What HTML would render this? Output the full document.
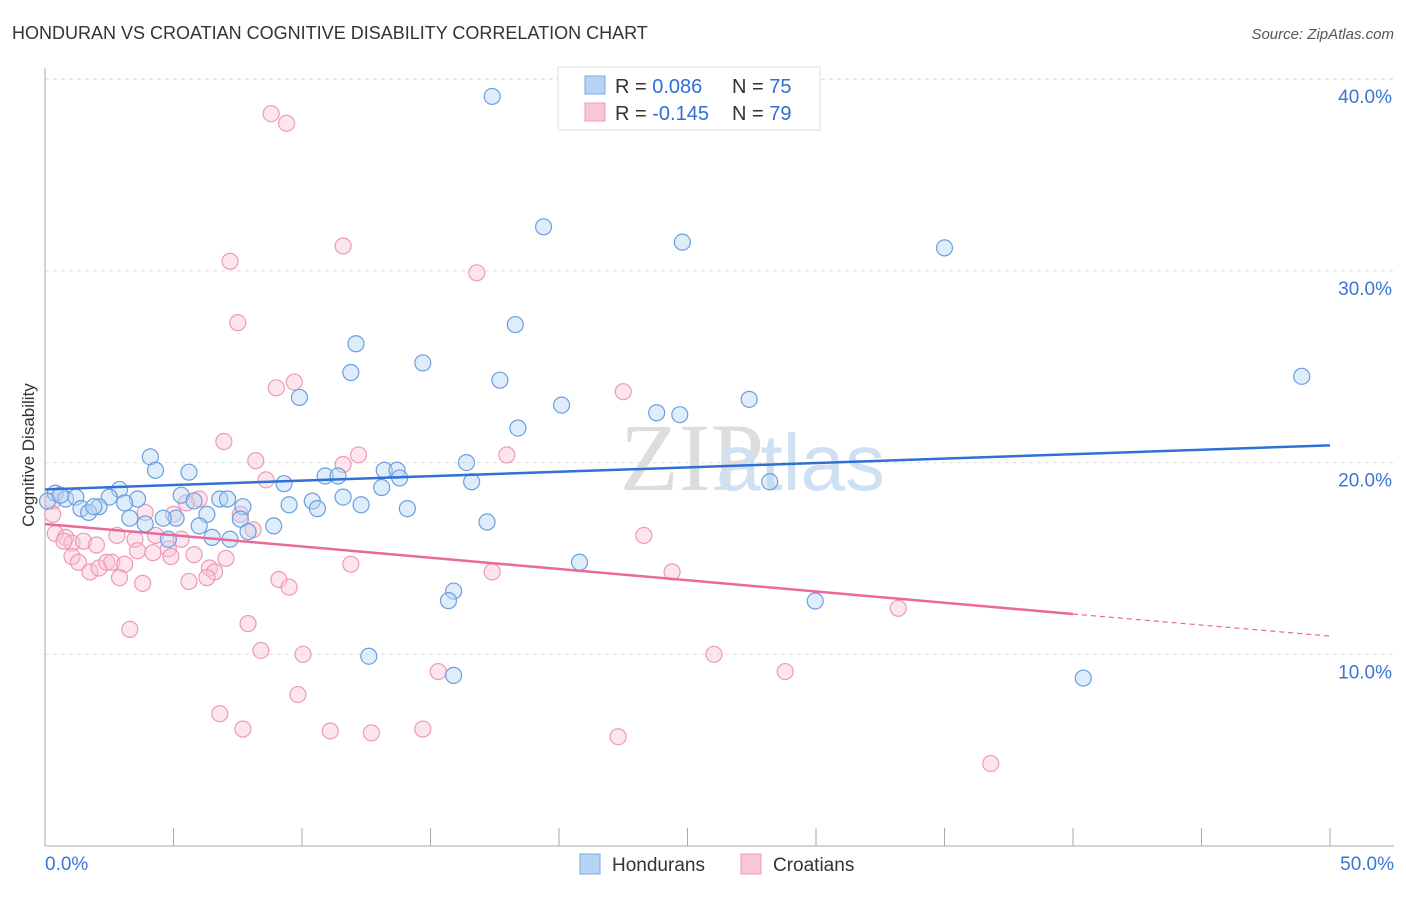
<!DOCTYPE html>
<html><head><meta charset="utf-8"><style>
body{margin:0;background:#fff;font-family:"Liberation Sans",sans-serif}
</style></head><body>
<svg width="1406" height="892" font-family="Liberation Sans, sans-serif">
<text x="12" y="39" font-size="18" fill="#333">HONDURAN VS CROATIAN COGNITIVE DISABILITY CORRELATION CHART</text>
<text x="1394" y="39" font-size="15" fill="#555" text-anchor="end" font-style="italic">Source: ZipAtlas.com</text>
<text x="620" y="490" font-size="96" fill="#ddd" font-family="Liberation Serif, serif">ZIP</text>
<text x="716" y="490" font-size="80" fill="#cfe0f3">atlas</text>
<g id="grid"></g><g id="axes"></g><g id="pts"></g><g id="lines"></g>
<text x="34" y="455" font-size="17" fill="#333" transform="rotate(-90 34 455)" text-anchor="middle">Cognitive Disability</text>
<g>
<rect x="558" y="67" width="262" height="63" fill="#fff" stroke="#ddd"/>
<rect x="585" y="76" width="20" height="18" fill="#b8d4f5" stroke="#7aa8e0"/>
<rect x="585" y="103" width="20" height="18" fill="#f9c6d6" stroke="#ee9ab5"/>
<text x="615" y="93" font-size="20" fill="#333">R = <tspan fill="#2f6fd6">0.086</tspan></text>
<text x="732" y="93" font-size="20" fill="#333">N = <tspan fill="#2f6fd6">75</tspan></text>
<text x="615" y="120" font-size="20" fill="#333">R = <tspan fill="#2f6fd6">-0.145</tspan></text>
<text x="732" y="120" font-size="20" fill="#333">N = <tspan fill="#2f6fd6">79</tspan></text>
</g>
<g>
<rect x="580" y="854" width="20" height="20" fill="#b8d4f5" stroke="#7aa8e0"/>
<text x="612" y="871" font-size="19" fill="#333">Hondurans</text>
<rect x="741" y="854" width="20" height="20" fill="#f9c6d6" stroke="#ee9ab5"/>
<text x="773" y="871" font-size="19" fill="#333">Croatians</text>
</g>
</svg>
<script>
const yTicks=[10,20,30,40];
const xTickLabels=["0.0%","50.0%"];
const blueX=[17.4,19.4,24.8,35,48.9,18.3,12.1,14.7,11.9,17.7,9.9,20.1,23.8,24.7,27.4,18.4,4.1,4.3,5.6,16.4,13.2,13.7,13.8,10.9,11.4,16.6,13.1,9.3,28.2,2.9,0.4,0.8,1.2,2.5,3.6,5.3,5.8,6.8,7.1,10.4,11.6,9.5,10.6,12.3,14.1,2.1,1.4,1.7,3.1,3.3,7.7,6.3,5.1,4.6,3.9,6,7.6,8.9,7.9,17.2,7.2,6.5,4.8,20.8,15.9,15.7,29.97,12.6,15.9,40.4,0.1,0.6,1.9];
const blueY=[39.1,32.3,31.5,31.2,24.5,27.2,26.2,25.2,24.7,24.3,23.4,23,22.6,22.5,23.3,21.8,20.3,19.6,19.5,20,19.6,19.6,19.2,19.3,19.3,19,18.7,18.9,19,18.6,18.4,18.1,18.2,18.2,18.1,18.3,18,18.1,18.1,17.99,18.2,17.8,17.6,17.8,17.6,17.7,17.6,17.4,17.9,17.1,17.7,17.3,17.1,17.1,16.8,16.7,17.05,16.7,16.4,16.9,16,16.1,16,14.8,13.3,12.8,12.78,9.9,8.9,8.76,17.99,18.3,17.7];
const pinkX=[8.8,9.4,11.6,16.8,7.2,7.5,9,9.7,22.5,6.96,17.97,12.2,11.6,8.2,8.6,6,5.5,5,7.6,8.1,3.9,0.3,0.3,0.4,0.8,1.05,1.5,2,2.8,3.5,4.3,4.8,5.3,1.05,1.3,1.75,2.1,2.4,2.6,3.1,3.6,4.2,4.9,5.8,6.4,6.6,7.04,6.3,2.9,3.8,5.6,9.1,9.5,11.9,17.4,23.3,24.4,33.2,3.3,7.9,8.4,10.04,15.3,26.03,28.8,9.84,6.8,7.7,11.1,12.7,14.7,22.3,36.8,0.74];
const pinkY=[38.2,37.7,31.3,29.9,30.5,27.3,23.9,24.2,23.7,21.1,20.4,20.4,19.9,20.1,19.1,18.1,17.9,17.3,17.3,16.5,17.4,17.99,17.3,16.3,16.1,15.8,15.9,15.7,16.2,16,16.2,15.5,16,15.1,14.8,14.3,14.5,14.8,14.8,14.7,15.4,15.3,15.1,15.2,14.5,14.3,15,14,14,13.7,13.8,13.9,13.5,14.7,14.3,16.2,14.3,12.4,11.3,11.6,10.2,10,9.1,10,9.1,7.9,6.9,6.1,6,5.9,6.1,5.7,4.3,15.9];
const X=v=>45+v/50*1285, Y=v=>846-v*19.17;
const NS="http://www.w3.org/2000/svg";
function mk(p,t,a){const e=document.createElementNS(NS,t);for(const k in a)e.setAttribute(k,a[k]);document.getElementById(p).appendChild(e);return e;}
for(const t of yTicks){
 const g=mk('grid','line',{x1:45,x2:1394,y1:Y(t),y2:Y(t),stroke:'#ddd','stroke-dasharray':'4,4'});
 
 
 const l=mk('axes','text',{x:1392,y:Y(t)+24,'font-size':19,fill:'#3b75d6','text-anchor':'end'});
 l.textContent=t.toFixed(1)+'%';
 
 
}
const topGrid=mk('grid','line',{x1:45,x2:1394,y1:79,y2:79,stroke:'#ddd','stroke-dasharray':'4,4'});


const ya=mk('axes','line',{x1:45,x2:45,y1:68,y2:846,stroke:'#aaa'});


const xa=mk('axes','line',{x1:45,x2:1394,y1:846,y2:846,stroke:'#aaa'});


for(let i=0;i<=10;i++){const t=mk('axes','line',{x1:X(i*5),x2:X(i*5),y1:828,y2:846,stroke:'#aaa'});
 
 }
const xl0=mk('axes','text',{x:45,y:870,'font-size':19,fill:'#3b75d6'});xl0.textContent=xTickLabels[0];


const xl1=mk('axes','text',{x:1394,y:870,'font-size':19,fill:'#3b75d6','text-anchor':'end'});xl1.textContent=xTickLabels[1];


function pts(xs,ys,f,s,n){for(let i=0;i<xs.length;i++){const c=mk('pts','circle',{cx:X(xs[i]),cy:Y(ys[i]),r:8,fill:f,'fill-opacity':0.45,stroke:s,'stroke-width':1.2});
 
 }}
pts(pinkX,pinkY,'#f9c6d6','#ee9ab5','croatian-point');
pts(blueX,blueY,'#b8d4f5','#6b9fe0','honduran-point');
const bl=mk('lines','line',{x1:X(0),y1:Y(18.6),x2:X(50),y2:Y(20.9),stroke:'#2f6fd6','stroke-width':2.5});


const pl=mk('lines','line',{x1:X(0),y1:Y(16.8),x2:X(40),y2:Y(12.1),stroke:'#e8699a','stroke-width':2.5});


const pd=mk('lines','line',{x1:X(40),y1:Y(12.1),x2:X(50),y2:Y(10.95),stroke:'#e8699a','stroke-width':1.2,'stroke-dasharray':'5,4'});


</script>
</body></html>
